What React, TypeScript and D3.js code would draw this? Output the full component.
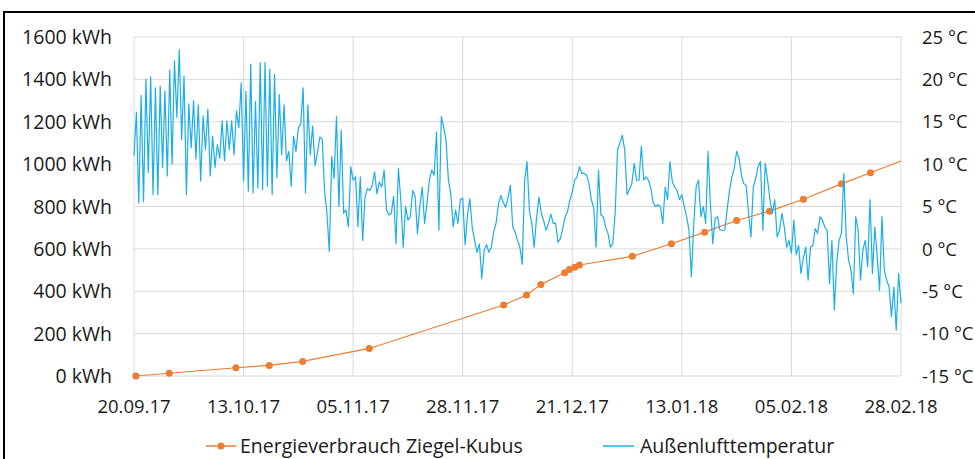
import React from "react";
import * as d3 from "d3";

// ---- data ----
const startLabel = "20.09.17";
const xTickLabels = ["20.09.17", "13.10.17", "05.11.17", "28.11.17", "21.12.17", "13.01.18", "05.02.18", "28.02.18"];
const energyTicks = [0, 200, 400, 600, 800, 1000, 1200, 1400, 1600];
const tempTicks = [-15, -10, -5, 0, 5, 10, 15, 20, 25];

// Energieverbrauch Ziegel-Kubus: day offset from 20.09.17, cumulative kWh
const energyDay = [0.4, 7.4, 21.4, 28.4, 35.4, 49.4, 77.6, 82.4, 85.4, 90.4, 91.4, 92.5, 93.5, 104.6, 112.8, 119.8, 126.5, 133.4, 140.5, 148.5, 154.6, 161];
const energyKWh = [0, 13, 39, 50, 69, 130, 335, 382, 432, 487, 503, 513, 524, 565, 624, 679, 734, 778, 834, 907, 959, 1015];
const energyMarker = [true, true, true, true, true, true, true, true, true, true, true, true, true, true, true, true, true, true, true, true, true, false];

// Außenlufttemperatur: one value every half day from 20.09.17
const tempStepDays = 0.5;
const temps = [
  11.0, 16.1, 5.4, 18.1, 5.6, 20.0, 9.0, 20.3, 6.4, 19.0,
  6.4, 19.2, 9.6, 18.6, 8.6, 21.1, 10.0, 22.2, 15.5, 23.5,
  12.9, 20.4, 6.4, 17.1, 11.9, 17.5, 10.6, 17.0, 8.0, 15.7,
  11.7, 16.5, 8.6, 13.3, 9.6, 12.3, 10.7, 15.1, 10.4, 15.1,
  11.7, 15.1, 11.1, 16.3, 14.3, 19.6, 8.0, 18.6, 6.8, 21.8,
  6.6, 17.4, 7.2, 22.0, 7.0, 22.0, 7.4, 21.2, 6.4, 20.6,
  8.4, 18.2, 11.1, 17.0, 10.4, 11.5, 7.4, 13.3, 11.5, 14.3,
  14.7, 19.0, 6.6, 17.0, 11.1, 14.5, 9.8, 11.3, 13.2, 13.0,
  6.9, 4.2, -0.3, 10.9, 8.3, 15.6, 5.0, 14.0, 4.2, 4.6,
  2.6, 9.7, 8.1, 8.5, 2.6, 8.5, 1.0, 6.2, 7.1, 6.9,
  7.5, 9.1, 6.5, 7.9, 7.3, 9.3, 4.6, 4.0, 4.2, 6.2,
  0.6, 9.5, 5.8, 0.2, 5.0, 3.4, 3.8, 6.9, 6.2, 1.8,
  5.0, 7.3, 3.0, 5.4, 8.1, 9.3, 8.7, 13.8, 2.2, 15.6,
  14.4, 12.8, 8.1, 6.5, 2.6, 4.6, 3.0, 5.8, 6.0, 0.5,
  4.0, 5.9, 2.5, 1.0, -0.4, 0.6, -3.5, -0.2, 0.5, -0.4,
  0.2, 2.0, 3.0, 5.3, 6.3, 5.5, 4.9, 6.0, 7.5, 2.6,
  2.0, 1.0, 0.2, -1.8, 8.1, 10.3, 4.5, 3.0, 0.2, 3.7,
  6.1, 4.2, 3.3, 2.2, 3.0, 4.1, 3.0, 3.0, 0.8, 1.2,
  2.4, 3.8, 4.4, 5.8, 6.7, 8.1, 8.5, 9.7, 8.9, 8.9,
  8.7, 7.7, 5.8, 4.8, 0.2, 9.3, 4.0, 3.8, 2.6, 1.8,
  0.2, 0.6, 4.2, 11.7, 12.5, 13.4, 11.7, 6.4, 7.0, 7.7,
  10.1, 8.1, 8.1, 12.1, 8.1, 8.5, 8.1, 7.1, 5.4, 5.0,
  5.2, 5.0, 3.0, 7.3, 5.8, 10.3, 7.9, 7.3, 6.9, 5.8,
  6.4, 5.0, 3.8, 2.2, -3.3, 3.0, 7.3, 8.1, 3.8, 5.0,
  3.0, 11.5, 5.2, 0.6, 3.6, 3.8, 2.2, 2.2, 2.2, 4.6,
  6.9, 8.5, 9.5, 11.5, 10.7, 8.7, 7.7, 7.5, 4.2, 1.4,
  7.3, 8.3, 9.7, 10.3, 2.2, 10.1, 8.1, 5.8, 4.2, 5.8,
  1.4, 2.2, 4.2, 2.6, 0.2, 1.0, -0.5, 3.4, -0.7, 0.4,
  -2.9, -1.1, 0.2, -3.7, 0.2, 0.4, 2.4, 1.8, 3.8, 3.4,
  2.6, 2.2, -4.1, 1.0, -7.2, -1.7, 1.0, 1.8, 8.9, 1.4,
  -1.3, -2.5, -5.3, 3.8, 2.2, -3.7, -0.1, 1.0, -2.1, 5.8,
  -2.9, 2.6, -0.9, -4.9, 3.8, -2.5, -3.7, -4.5, -8.0, -4.5,
  -9.6, -2.9, -6.4,
];

const seriesNames = ["Energieverbrauch Ziegel-Kubus", "Außenlufttemperatur"];

// ---- layout / style ----
const W = 975;
const H = 459;
const plot = { left: 134, right: 901, top: 37, bottom: 376 };
const ORANGE = "#ED7D31";
const BLUE = "#1AAFEA";
const GRID = "#D9D9D9";
const FONT = "'Open Sans', Lato, sans-serif";
const FS = 18.5;
const FS_AXIS_L = 19.5;
const FS_LEGEND = 19.5;

export default function App() {
  const parse = d3.timeParse("%d.%m.%y");
  const t0 = parse(startLabel) as Date;
  const tickDates = xTickLabels.map((l) => parse(l) as Date);
  const dayToDate = (d: number) => new Date(t0.getTime() + d * 86400000);

  const x = d3.scaleTime().domain([tickDates[0], tickDates[tickDates.length - 1]]).range([plot.left, plot.right]);
  const yE = d3.scaleLinear().domain([0, 1600]).range([plot.bottom, plot.top]);
  const yT = d3.scaleLinear().domain([-15, 25]).range([plot.bottom, plot.top]);

  const energyPts = energyDay.map((d, i) => ({ date: dayToDate(d), v: energyKWh[i], m: energyMarker[i] }));
  const tempPts = temps.map((v, i) => ({ date: dayToDate(i * tempStepDays), v }));

  const energyLine = d3.line<{ date: Date; v: number }>().x((d) => x(d.date)).y((d) => yE(d.v));
  const tempLine = d3.line<{ date: Date; v: number }>().x((d) => x(d.date)).y((d) => yT(d.v));

  return (
    <svg width={W} height={H} style={{ position: "absolute", left: 0, top: 0, background: "#fff" }} fontFamily={FONT}>
      <rect x={0} y={0} width={W} height={H} fill="#fff" />
      <rect x={4} y={12} width={1100} height={600} fill="none" stroke="#000" strokeWidth={2} />

      {/* horizontal gridlines */}
      {energyTicks.map((t) => (
        <line key={"h" + t} x1={plot.left} x2={plot.right} y1={yE(t)} y2={yE(t)} stroke={GRID} strokeWidth={1} />
      ))}
      {/* vertical gridlines */}
      {tickDates.map((d, i) => (
        <line key={"v" + i} x1={x(d)} x2={x(d)} y1={plot.top} y2={plot.bottom} stroke={GRID} strokeWidth={1} />
      ))}

      {/* left axis labels */}
      {energyTicks.map((t) => (
        <text key={"l" + t} x={112} y={yE(t)} dy="0.36em" textAnchor="end" fontSize={FS_AXIS_L} fill="#1a1a1a">
          {t} kWh
        </text>
      ))}
      {/* right axis labels */}
      {tempTicks.map((t) => (
        <text key={"r" + t} x={922} y={yT(t)} dy="0.36em" textAnchor="start" fontSize={FS} fill="#1a1a1a">
          {t} °C
        </text>
      ))}
      {/* x axis labels */}
      {tickDates.map((d, i) => (
        <text key={"x" + i} x={x(d)} y={406} dy="0.36em" textAnchor="middle" fontSize={FS} fill="#1a1a1a">
          {xTickLabels[i]}
        </text>
      ))}

      {/* energy series */}
      <path d={energyLine(energyPts) || ""} fill="none" stroke={ORANGE} strokeWidth={1.2} />
      {energyPts.filter((p) => p.m).map((p, i) => (
        <circle key={"c" + i} cx={x(p.date)} cy={yE(p.v)} r={3.5} fill={ORANGE} />
      ))}

      {/* temperature series */}
      <path d={tempLine(tempPts) || ""} fill="none" stroke={BLUE} strokeWidth={1.2} strokeLinejoin="round" />

      {/* legend */}
      <line x1={206} x2={236} y1={446} y2={446} stroke={ORANGE} strokeWidth={1.5} />
      <circle cx={221} cy={446} r={3.5} fill={ORANGE} />
      <text x={240} y={446} dy="0.36em" fontSize={FS_LEGEND} fill="#1a1a1a">{seriesNames[0]}</text>
      <line x1={603} x2={634} y1={446} y2={446} stroke={BLUE} strokeWidth={1.5} />
      <text x={640} y={446} dy="0.36em" fontSize={FS_LEGEND} fill="#1a1a1a">{seriesNames[1]}</text>
    </svg>
  );
}
